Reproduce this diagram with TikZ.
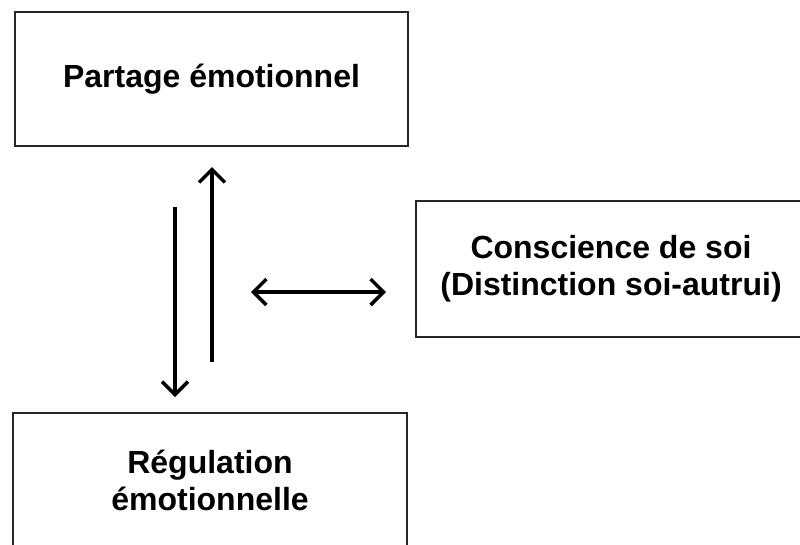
\documentclass[tikz,border=0pt]{standalone}
\usepackage{fontspec}
\setmainfont{Liberation Sans}
\usetikzlibrary{arrows.meta}
\begin{document}
\begin{tikzpicture}[x=1pt,y=-1pt,
  box/.style={draw=black!85, line width=1.3pt, fill=white, align=center, inner sep=0pt,
    font=\bfseries\fontsize{32}{37}\selectfont},
  tip/.tip={Straight Barb[length=13pt,width=26pt,line width=3.5pt]},
  arr/.style={line width=3.5pt, -tip},
  darr/.style={line width=3.5pt, tip-tip}]
\useasboundingbox (0,0) rectangle (800,544);
\clip (0,0) rectangle (800,544);
\fill[white] (0,0) rectangle (800,544);

\node[box, minimum width=393pt, minimum height=134pt] (partage) at (211.5,79) {Partage émotionnel};
\node[box, minimum width=390pt, minimum height=136pt] (conscience) at (611,269) {Conscience de soi\\(Distinction soi-autrui)};
\node[box, minimum width=394pt, minimum height=134pt] (regulation) at (210,480) {Régulation\\émotionnelle};

\coordinate (d1) at (175,207);
\coordinate (d2) at (175,397);
\coordinate (u1) at (212,362);
\coordinate (u2) at (212,167);
\coordinate (h1) at (251,292);
\coordinate (h2) at (386,292);

\draw[arr] (d1) -- (d2);
\draw[arr] (u1) -- (u2);
\draw[darr] (h1) -- (h2);
\end{tikzpicture}
\end{document}
